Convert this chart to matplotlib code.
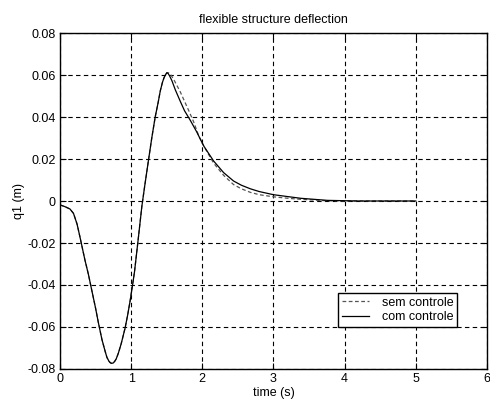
import matplotlib
matplotlib.use("Agg")
import matplotlib.pyplot as plt

plt.rcParams['font.family'] = ['Liberation Sans', 'DejaVu Sans']

# com controle (solid)
t_com = [0, 0.03, 0.07, 0.14, 0.19, 0.24, 0.28, 0.35, 0.40, 0.446, 0.50, 0.54,
         0.59, 0.634, 0.66, 0.69, 0.71, 0.728, 0.75, 0.77, 0.79, 0.82, 0.86,
         0.915, 0.95, 0.986, 1.02, 1.047, 1.10, 1.15, 1.19, 1.244, 1.29, 1.338,
         1.38, 1.41, 1.44, 1.46, 1.48, 1.503, 1.52, 1.54, 1.574, 1.62, 1.69,
         1.75, 1.83, 1.92, 2.02, 2.16, 2.3, 2.44, 2.55, 2.676, 2.8, 3.0, 3.2,
         3.38, 3.76, 4.2, 5.0]
q_com = [-0.0019, -0.0022, -0.0027, -0.0038, -0.0059, -0.011, -0.017, -0.028,
         -0.035, -0.0424, -0.051, -0.058, -0.066, -0.0715, -0.0745, -0.0764,
         -0.0771, -0.0773, -0.0771, -0.0763, -0.0752, -0.0725, -0.068, -0.0605,
         -0.0545, -0.0475, -0.040, -0.0338, -0.018, -0.0027, 0.007, 0.0195,
         0.030, 0.040, 0.047, 0.0525, 0.0565, 0.0585, 0.0600, 0.0611, 0.0607,
         0.0596, 0.0572, 0.053, 0.0475, 0.043, 0.0385, 0.033, 0.0262, 0.019,
         0.0135, 0.0095, 0.0075, 0.0058, 0.0045, 0.003, 0.0021, 0.0013, 0.0003,
         0.0, 0.0]

# sem controle (dashed)
t_sem = [0, 0.03, 0.07, 0.14, 0.19, 0.24, 0.28, 0.35, 0.40, 0.446, 0.50, 0.54,
         0.59, 0.634, 0.66, 0.69, 0.71, 0.728, 0.75, 0.77, 0.79, 0.82, 0.86,
         0.915, 0.95, 0.986, 1.02, 1.047, 1.10, 1.15, 1.19, 1.244, 1.29, 1.338,
         1.38, 1.41, 1.44, 1.46, 1.48, 1.503, 1.53, 1.55, 1.60, 1.69, 1.75,
         1.806, 1.877, 1.95, 2.02, 2.16, 2.3, 2.44, 2.55, 2.676, 2.8, 3.0, 3.2,
         3.38, 3.76, 4.2, 5.0]
q_sem = [-0.0019, -0.0022, -0.0027, -0.0038, -0.0059, -0.011, -0.017, -0.028,
         -0.035, -0.0424, -0.051, -0.058, -0.066, -0.0715, -0.0745, -0.0764,
         -0.0771, -0.0773, -0.0771, -0.0763, -0.0752, -0.0725, -0.068, -0.0605,
         -0.0545, -0.0475, -0.040, -0.0338, -0.018, -0.0027, 0.007, 0.0195,
         0.030, 0.040, 0.047, 0.0525, 0.0565, 0.0585, 0.0600, 0.0611, 0.0610,
         0.0605, 0.0578, 0.052, 0.0475, 0.0433, 0.0378, 0.031, 0.0262, 0.018,
         0.0122, 0.0078, 0.0058, 0.0041, 0.003, 0.002, 0.0013, 0.0008, 0.0001,
         0.0, 0.0]

x_ticks = [0, 1, 2, 3, 4, 5, 6]
y_ticks = [-0.08, -0.06, -0.04, -0.02, 0, 0.02, 0.04, 0.06, 0.08]
y_labels = ['-0.08', '-0.06', '-0.04', '-0.02', '0', '0.02', '0.04', '0.06', '0.08']

fig = plt.figure(figsize=(4.9, 4.05), dpi=100)
ax = fig.add_axes([0.1224, 0.0889, 0.8714, 0.8296])

ax.plot(t_sem, q_sem, color='#555555', linestyle=(0, (3, 2)), linewidth=0.9,
        label='sem controle')
ax.plot(t_com, q_com, color='black', linestyle='-', linewidth=0.9,
        label='com controle')

ax.set_xlim(0, 6)
ax.set_ylim(-0.08, 0.08)
ax.set_xticks(x_ticks)
ax.set_yticks(y_ticks)
ax.set_yticklabels(y_labels)
ax.tick_params(direction='in', length=4, labelsize=9, top=True, right=True,
               pad=3, width=0.8)
ax.grid(True, color='black', linestyle=(0, (4, 3)), linewidth=0.8)
for s in ax.spines.values():
    s.set_linewidth(1.0)

ax.set_title('flexible structure deflection', fontsize=9, pad=7)
ax.set_xlabel('time (s)', fontsize=9, labelpad=1)
ax.set_ylabel('q1 (m)', fontsize=9, labelpad=2)

leg = ax.legend(loc='upper right', bbox_to_anchor=(0.93, 0.226), fontsize=9,
                fancybox=False, edgecolor='black', framealpha=1,
                handlelength=2.2, borderpad=0.3, labelspacing=0.2,
                handletextpad=1.0, borderaxespad=0)
leg.get_frame().set_linewidth(1.0)

fig.savefig('out.png', dpi=100)
